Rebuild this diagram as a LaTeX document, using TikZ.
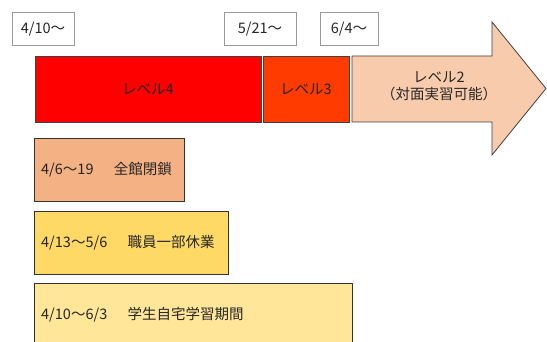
\documentclass[tikz,border=0pt]{standalone}
\usepackage{fontspec}
\setmainfont{Noto Sans CJK JP}
\begin{document}
\begin{tikzpicture}[x=1pt,y=-1pt,
  datebox/.style={draw=black!40,fill=white,line width=0.7pt,inner sep=0pt},
  lvbox/.style={draw=black!75,line width=0.8pt,inner sep=0pt},
  periodbox/.style={draw=black!80,line width=1pt,inner sep=0pt},
  lbl/.style={font=\fontsize{14.5}{17}\selectfont,inner sep=0pt,text=black!85}]
\useasboundingbox (0,0) rectangle (547,342);
\clip (0,0) rectangle (547,342);
\definecolor{lvfour}{HTML}{FF0000}
\definecolor{lvthree}{HTML}{FF3B00}
\definecolor{lvtwo}{HTML}{F8CBAD}
\definecolor{closedc}{HTML}{F4B183}
\definecolor{staffc}{HTML}{FFD966}
\definecolor{studc}{HTML}{FFE699}
% date boxes
\draw[datebox] (12,12) rectangle (74,45);
\node[lbl] (d1) at (43,29) {4/10～};
\draw[datebox] (224,12) rectangle (296,45);
\node[lbl] (d2) at (260,29) {5/21～};
\draw[datebox] (320,12) rectangle (378,45);
\node[lbl] (d3) at (349,29) {6/4～};
% levels
\draw[lvbox,fill=lvfour] (35,56) rectangle (261,122);
\node[lbl] (l4) at (148,89) {レベル4};
\draw[lvbox,fill=lvthree] (263,56) rectangle (349,122);
\node[lbl] (l3) at (306,89) {レベル3};
\draw[lvbox,fill=lvtwo,line join=miter] (352,56) -- (492,56) -- (492,22) -- (546,88.5) -- (492,155) -- (492,122) -- (352,122) -- cycle;
\node[lbl,align=center,font=\fontsize{14.5}{17}\selectfont] (l2) at (439,86) {レベル2\\（対面実習可能）};
% periods
\draw[periodbox,fill=closedc] (34,139) rectangle (184,202);
\node[lbl,anchor=west] (p1) at (41,170) {4/6～19\hspace{1.4em}全館閉鎖};
\draw[periodbox,fill=staffc] (34,212) rectangle (228,275);
\node[lbl,anchor=west] (p2) at (41,243) {4/13～5/6\hspace{1.4em}職員一部休業};
\draw[periodbox,fill=studc] (34,284) rectangle (352,350);
\node[lbl,anchor=west] (p3) at (41,315) {4/10～6/3\hspace{1.4em}学生自宅学習期間};
\end{tikzpicture}
\end{document}
